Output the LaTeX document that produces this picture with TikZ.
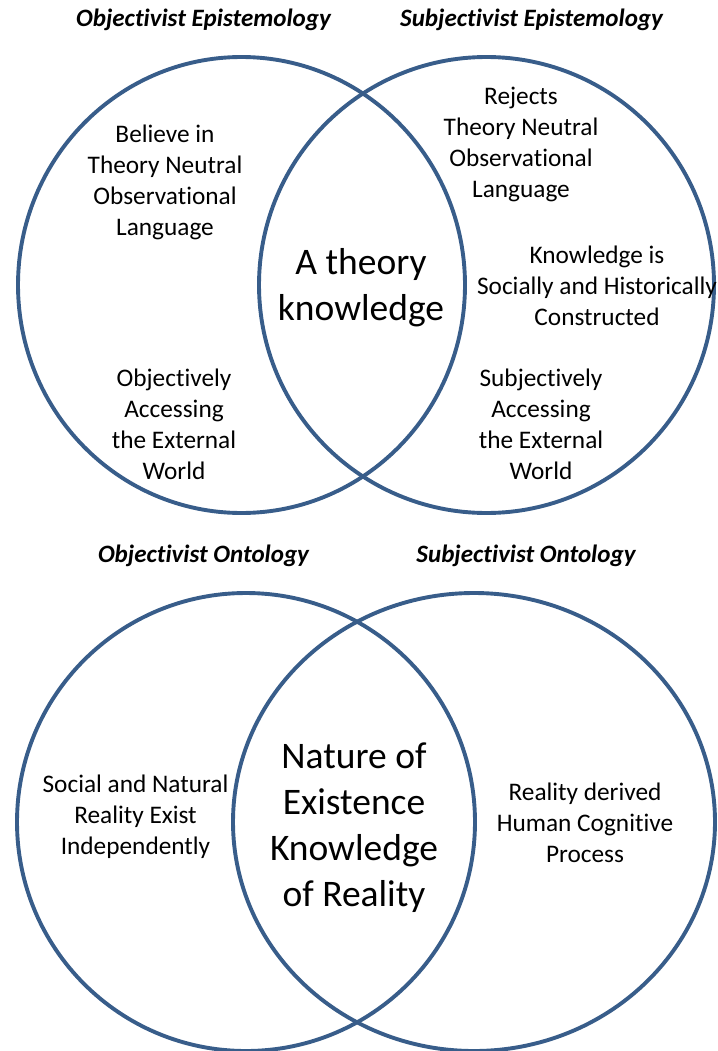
\documentclass[tikz,border=0pt]{standalone}
\usepackage{fontspec}
\setmainfont{Carlito}[Ligatures=NoCommon]
\definecolor{vennblue}{HTML}{385D8A}
\begin{document}
\begin{tikzpicture}[x=1pt,y=-1pt,
  venn/.style={draw=vennblue, line width=3.9pt},
  label/.style={align=center, inner sep=0pt, font=\fontsize{25.3}{31}\selectfont},
  core/.style={align=center, inner sep=0pt, font=\fontsize{37.5}{46}\selectfont},
  heading/.style={inner sep=0pt, font=\fontsize{25}{30}\selectfont\bfseries\itshape}]
\useasboundingbox (0,0) rectangle (717,1051);

% Epistemology pair
\draw[venn] (241.5,285) ellipse [x radius=223.5pt, y radius=228pt];
\draw[venn] (486.5,285) ellipse [x radius=227.5pt, y radius=228pt];

\node[heading] (objEpi) at (203.5,20) {Objectivist Epistemology};
\node[heading] (subEpi) at (531.5,20) {Subjectivist Epistemology};

\node[label] (believe) at (165,182) {Believe in\\Theory Neutral\\Observational\\Language};
\node[label] (objAccess) at (174,424) {Objectively\\Accessing\\the External\\World};
\node[core] (theory) at (361,288) {A theory\\knowledge};
\node[label] (rejects) at (521,144) {Rejects\\Theory Neutral\\Observational\\Language};
\node[label] (social) at (597,285.5) {Knowledge is\\Socially and Historically\\Constructed};
\node[label] (subAccess) at (541,424) {Subjectively\\Accessing\\the External\\World};

% Ontology pair
\draw[venn] (246,822) ellipse [x radius=229pt, y radius=229pt];
\draw[venn] (474,822) ellipse [x radius=241pt, y radius=229pt];

\node[heading] (objOnt) at (203.5,556) {Objectivist Ontology};
\node[heading] (subOnt) at (526,556) {Subjectivist Ontology};

\node[label] (independent) at (135.5,817) {Social and Natural\\Reality Exist\\Independently};
\node[core] (nature) at (354,828) {Nature of\\Existence\\Knowledge\\of Reality};
\node[label] (cognitive) at (585,823) {Reality derived\\Human Cognitive\\Process};
\end{tikzpicture}
\end{document}
